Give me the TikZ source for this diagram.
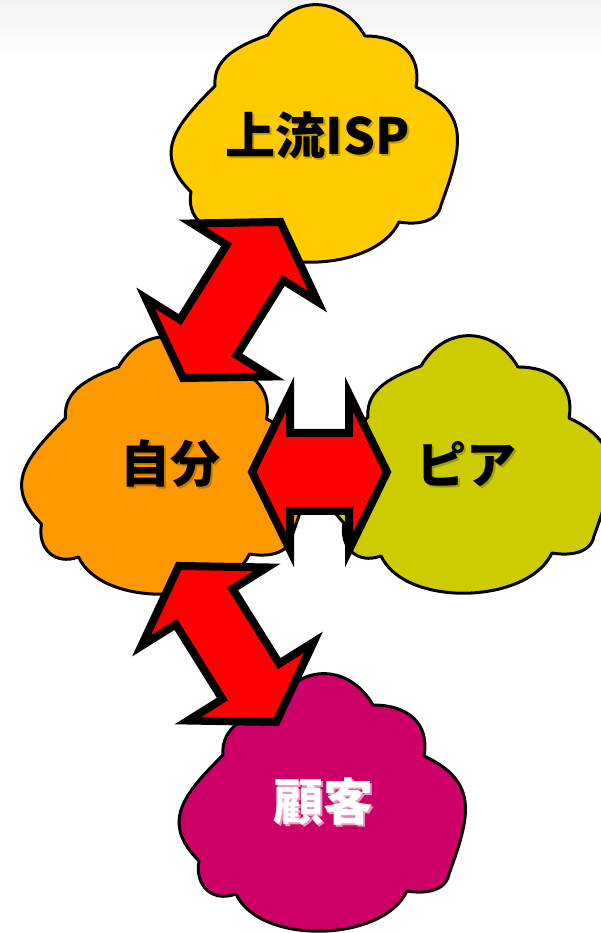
\documentclass[tikz,border=0pt]{standalone}
\usepackage{fontspec}
\newfontfamily\jpfont{Noto Sans CJK JP}
\usetikzlibrary{calc}

\definecolor{ispyellow}{HTML}{FFCC00}
\definecolor{selforange}{HTML}{FF9900}
\definecolor{peerolive}{HTML}{CCCC00}
\definecolor{custmagenta}{HTML}{CC0066}

% outline of one cloud, centred on the origin
\newcommand\cloudpath{%
  (-47.5,98.5) to[out=60,in=120,looseness=1.25] (49.5,97.5)
  to[out=0,in=80,looseness=1.2] (100.5,46.5)
  to[out=-25,in=70,looseness=1.3] (125.5,-71.5)
  to[out=-100,in=-10] (83.5,-88.5)
  to[out=-115,in=-65,looseness=0.85] (-87.5,-91.5)
  to[out=-160,in=-100,looseness=1.3] (-124.5,-58.5)
  to[out=135,in=225,looseness=1.3] (-100.5,47.5)
  to[out=95,in=200] (-47.5,98.5) -- cycle}
\newcommand\drawcloud[2]{\filldraw[cloudline, fill=#2, shift={#1}] \cloudpath;}

% block arrow: centre, angle, half length, head length, half head width, half shaft width
\newcommand\blockarrow[6]{%
  \filldraw[arrowline, shift={#1}, rotate=#2]
  (-#3,0) -- (-#3+#4,#5) -- (-#3+#4,#6) -- (#3-#4,#6) -- (#3-#4,#5) -- (#3,0)
  -- (#3-#4,-#5) -- (#3-#4,-#6) -- (-#3+#4,-#6) -- (-#3+#4,-#5) -- cycle;}

\begin{document}
\begin{tikzpicture}[x=1pt, y=1pt,
  cloudline/.style={draw=black, line width=3pt, line join=round},
  arrowline/.style={draw=black, fill=red, line width=8pt, line join=miter},
  cloudtext/.style={font=\jpfont\bfseries\fontsize{50}{56}\selectfont, inner sep=0pt},
  cloudshadow/.style={cloudtext, text=black, text opacity=0.22}]

  \useasboundingbox (0,0) rectangle (601,933);
  \shade[top color=black!5, bottom color=white] (0,873) rectangle (601,933);

  % centres of the clouds
  \coordinate (isp) at (315.5,799.5);
  \coordinate (self) at (166,467.5);
  \coordinate (peer) at (468.5,468.5);
  \coordinate (cust) at (323.5,130.5);

  \drawcloud{(isp)}{ispyellow}
  \drawcloud{(self)}{selforange}
  \drawcloud{(peer)}{peerolive}
  \drawcloud{(cust)}{custmagenta}

  % arrows between the clouds
  \coordinate (isparrow) at (231.7,633);
  \coordinate (peerarrow) at (319.5,461);
  \coordinate (custarrow) at (227.5,289);
  \blockarrow{(isparrow)}{58}{92}{48}{74}{33.5}
  \blockarrow{(peerarrow)}{0}{67.5}{38}{78}{39}
  \blockarrow{(custarrow)}{-58}{92}{48}{74}{33.5}

  % labels
  \node[cloudshadow] (ispshadow) at ($(isp)+(4,-3.5)$) {上流ISP};
  \node[cloudtext] (isplabel) at ($(isp)+(2,-1.5)$) {上流ISP};
  \node[cloudshadow] (selfshadow) at ($(self)+(6,-0.5)$) {自分};
  \node[cloudtext] (selflabel) at ($(self)+(4,1.5)$) {自分};
  \node[cloudshadow] (peershadow) at ($(peer)+(-0.5,-1.5)$) {ピア};
  \node[cloudtext] (peerlabel) at ($(peer)+(-2.5,0.5)$) {ピア};
  \node[cloudtext, text=white!60!custmagenta] (custshadow) at ($(cust)+(1.5,-1.5)$) {顧客};
  \node[cloudtext, text=white] (custlabel) at ($(cust)+(-0.5,0.5)$) {顧客};

\end{tikzpicture}
\end{document}
